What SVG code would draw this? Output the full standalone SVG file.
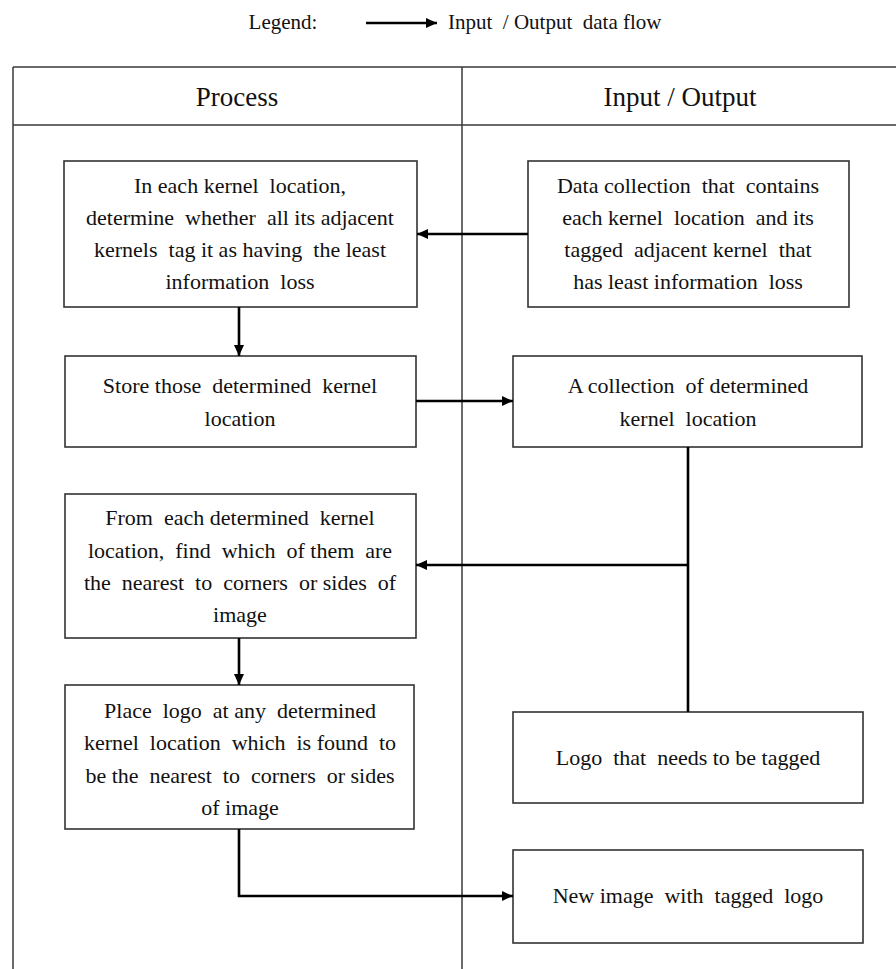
<svg xmlns="http://www.w3.org/2000/svg" width="896" height="969" viewBox="0 0 896 969" xml:space="preserve">
  <style>
    .grid { stroke: #3a3a3a; stroke-width: 1.5; fill: none; }
    .box rect { fill: #ffffff; stroke: #333333; stroke-width: 1.6; }
    .box text, .lbl { font-family: "Liberation Serif", "Times New Roman", serif; font-size: 22px; fill: #111111; text-anchor: middle; white-space: pre; }
    .head { font-family: "Liberation Serif", "Times New Roman", serif; font-size: 27px; fill: #111111; text-anchor: middle; }
    .flow { stroke: #000000; stroke-width: 2.6; fill: none; }
  </style>
  <defs>
    <marker id="arrow" markerUnits="userSpaceOnUse" markerWidth="12" markerHeight="10" refX="11" refY="5" orient="auto">
      <path d="M0,0 L11,5 L0,10 Z" fill="#000000"/>
    </marker>
  </defs>

  <rect x="0" y="0" width="896" height="969" fill="#ffffff"/>

  <!-- legend -->
  <g id="legend">
    <text class="lbl" x="283" y="29" style="font-size: 21px;">Legend:</text>
    <line class="flow" x1="366" y1="23" x2="437" y2="23" marker-end="url(#arrow)"/>
    <text class="lbl" x="448" y="29" style="text-anchor: start; font-size: 21px;">Input  / Output  data flow</text>
  </g>

  <!-- swimlane table -->
  <g id="lanes">
    <line class="grid" x1="13" y1="67" x2="896" y2="67"/>
    <line class="grid" x1="13" y1="125" x2="896" y2="125"/>
    <line class="grid" x1="13" y1="67" x2="13" y2="969"/>
    <line class="grid" x1="462" y1="67" x2="462" y2="969"/>
    <text class="head" x="237" y="106">Process</text>
    <text class="head" x="680" y="106">Input / Output</text>
  </g>

  <!-- process lane -->
  <g id="check-kernels" class="box">
    <rect x="64" y="161" width="353" height="146"/>
    <text x="240" y="193">In each kernel  location,</text>
    <text x="240" y="225">determine  whether  all its adjacent</text>
    <text x="240" y="257">kernels  tag it as having  the least</text>
    <text x="240" y="289">information  loss</text>
  </g>

  <g id="store-locations" class="box">
    <rect x="65" y="356" width="351" height="91"/>
    <text x="240" y="393">Store those  determined  kernel</text>
    <text x="240" y="426">location</text>
  </g>

  <g id="find-nearest" class="box">
    <rect x="65" y="494" width="351" height="144"/>
    <text x="240" y="525">From  each determined  kernel</text>
    <text x="240" y="558">location,  find  which  of them  are</text>
    <text x="240" y="590">the  nearest  to  corners  or sides  of</text>
    <text x="240" y="622">image</text>
  </g>

  <g id="place-logo" class="box">
    <rect x="65" y="685" width="349" height="144"/>
    <text x="240" y="718">Place  logo  at any  determined</text>
    <text x="240" y="750">kernel  location  which  is found  to</text>
    <text x="240" y="783">be the  nearest  to  corners  or sides</text>
    <text x="240" y="815">of image</text>
  </g>

  <!-- input / output lane -->
  <g id="kernel-data" class="box">
    <rect x="528" y="161" width="321" height="146"/>
    <text x="688" y="193">Data collection  that  contains</text>
    <text x="688" y="225">each kernel  location  and its</text>
    <text x="688" y="257">tagged  adjacent kernel  that</text>
    <text x="688" y="289">has least information  loss</text>
  </g>

  <g id="location-collection" class="box">
    <rect x="513" y="356" width="349" height="91"/>
    <text x="688" y="393">A collection  of determined</text>
    <text x="688" y="426">kernel  location</text>
  </g>

  <g id="logo-input" class="box">
    <rect x="513" y="712" width="350" height="91"/>
    <text x="688" y="765">Logo  that  needs to be tagged</text>
  </g>

  <g id="tagged-image" class="box">
    <rect x="513" y="850" width="350" height="93"/>
    <text x="688" y="903">New image  with  tagged  logo</text>
  </g>

  <!-- data flow connectors -->
  <g id="connectors">
    <line class="flow" x1="528" y1="234" x2="417" y2="234" marker-end="url(#arrow)"/>
    <line class="flow" x1="239" y1="307" x2="239" y2="356" marker-end="url(#arrow)"/>
    <line class="flow" x1="416" y1="401" x2="513" y2="401" marker-end="url(#arrow)"/>
    <line class="flow" x1="688" y1="447" x2="688" y2="712"/>
    <line class="flow" x1="688" y1="565" x2="416" y2="565" marker-end="url(#arrow)"/>
    <line class="flow" x1="239" y1="638" x2="239" y2="685" marker-end="url(#arrow)"/>
    <polyline class="flow" points="239,829 239,896 513,896" marker-end="url(#arrow)"/>
  </g>
</svg>
